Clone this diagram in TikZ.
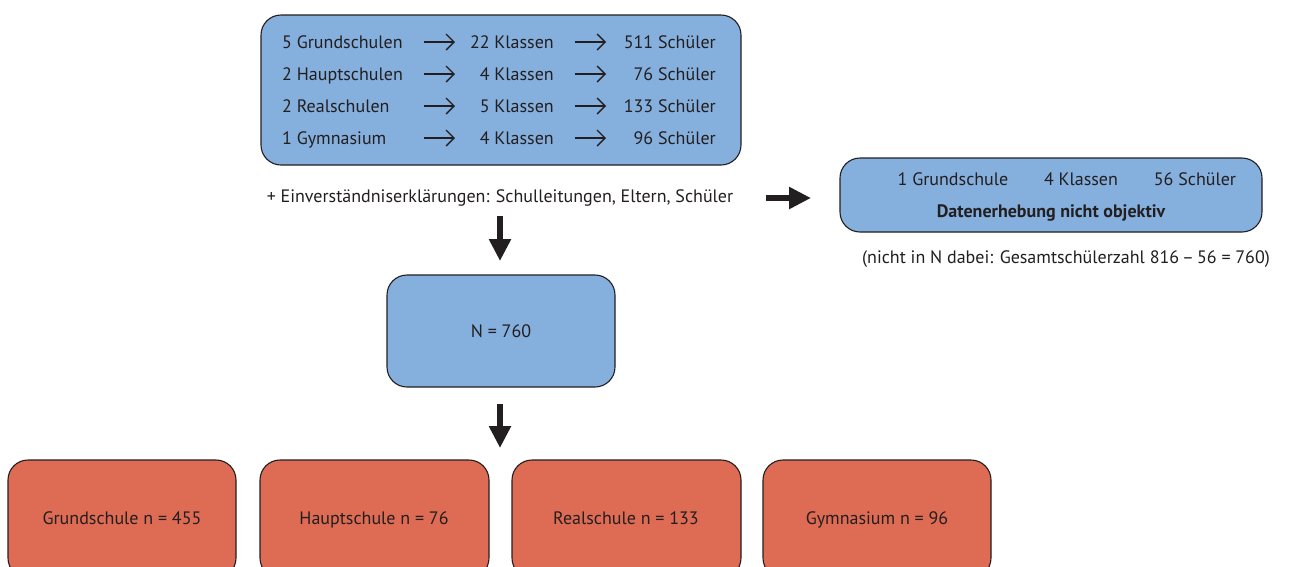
\documentclass[tikz,border=0pt]{standalone}
\usepackage{fontspec}
\setmainfont{PT Sans}
\usetikzlibrary{arrows.meta}
\definecolor{boxblue}{HTML}{85AFDD}
\definecolor{boxred}{HTML}{DE6B53}
\definecolor{ink}{HTML}{231F20}
\tikzset{
  panel/.style={draw=ink, line width=1.1pt, rounded corners=20pt},
  bluepanel/.style={panel, fill=boxblue},
  redpanel/.style={panel, fill=boxred},
  lbl/.style={inner sep=0pt, text=ink, font=\fontsize{18}{21}\selectfont},
  thinarrow/.style={-{Straight Barb[length=8pt,width=16pt]}, line width=1.4pt, draw=ink},
  fatarrow/.style={-{Triangle[length=22pt,width=21pt]}, line width=5.5pt, draw=ink}
}
\begin{document}
\begin{tikzpicture}[x=1pt,y=-1pt]
\clip (0,0) rectangle (1291,566);
\fill[white] (0,0) rectangle (1291,566);

% school overview panel
\draw[bluepanel] (261,15) rectangle (741,165);
\foreach \b/\sa/\sb/\sc [count=\i] in {48/5 Grundschulen/22 Klassen/511 Schüler,
                                        80/2 Hauptschulen/4 Klassen/76 Schüler,
                                        112/2 Realschulen/5 Klassen/133 Schüler,
                                        144/1 Gymnasium/4 Klassen/96 Schüler}{
  \node[lbl, anchor=base west] (s\i) at (282,\b) {\sa};
  \node[lbl, anchor=base east] (k\i) at (554,\b) {\sb};
  \node[lbl, anchor=base east] (p\i) at (716,\b) {\sc};
  \coordinate (a\i) at (424,\b-6);
  \coordinate (b\i) at (455,\b-6);
  \coordinate (c\i) at (575,\b-6);
  \coordinate (d\i) at (606,\b-6);
  \draw[thinarrow] (a\i) -- (b\i);
  \draw[thinarrow] (c\i) -- (d\i);
}

\node[lbl, anchor=base] (consent) at (500,202)
  {+ Einverständniserklärungen: Schulleitungen, Eltern, Schüler};

% excluded school
\draw[bluepanel] (840,158) rectangle (1262,232);
\node[lbl, anchor=base] (ex1) at (953,185) {1 Grundschule};
\node[lbl, anchor=base] (ex2) at (1081,185) {4 Klassen};
\node[lbl, anchor=base] (ex3) at (1195,185) {56 Schüler};
\node[lbl, anchor=base, font=\fontsize{18}{21}\selectfont\bfseries] (ex4) at (1051,217) {Datenerhebung nicht objektiv};
\node[lbl, anchor=base] (note) at (1066,263) {(nicht in N dabei: Gesamtschülerzahl 816\,–\,56 = 760)};

% total sample
\draw[bluepanel] (387,275) rectangle (615,387);
\node[lbl, anchor=base] (total) at (501,337.5) {N = 760};

% subsamples by school type
\draw[redpanel] (8,460) rectangle (236,578);
\draw[redpanel] (260,460) rectangle (489,578);
\draw[redpanel] (512,460) rectangle (741,578);
\draw[redpanel] (763,460) rectangle (991,578);
\node[lbl, anchor=base] (g) at (122,524) {Grundschule n = 455};
\node[lbl, anchor=base] (h) at (374,524) {Hauptschule n = 76};
\node[lbl, anchor=base] (r) at (626,524) {Realschule n = 133};
\node[lbl, anchor=base] (y) at (877,524) {Gymnasium n = 96};

% flow arrows
\coordinate (f1a) at (500,216);
\coordinate (f1b) at (500,261);
\coordinate (f2a) at (766,198);
\coordinate (f2b) at (811,198);
\coordinate (f3a) at (500,404);
\coordinate (f3b) at (500,448);
\draw[fatarrow] (f1a) -- (f1b);
\draw[fatarrow] (f2a) -- (f2b);
\draw[fatarrow] (f3a) -- (f3b);
\end{tikzpicture}
\end{document}
